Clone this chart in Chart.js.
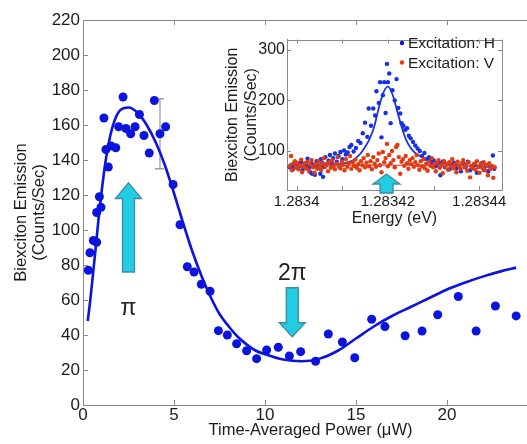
<!DOCTYPE html>
<html>
<head>
<meta charset="utf-8">
<script src="https://cdn.jsdelivr.net/npm/chart.js@4.4.1/dist/chart.umd.min.js"></script>
<style>
  html, body { margin: 0; padding: 0; background: #fff; overflow: hidden; width: 527px; height: 444px; }
  #main { position: absolute; left: 0; top: 0; }
  #inset { position: absolute; left: 220px; top: 28px; background: #fff; }
</style>
</head>
<body>
<canvas id="main" width="560" height="444"></canvas>
<canvas id="inset" width="300" height="202"></canvas>
<script>
// main panel: measured points (power in uW, counts/sec)
const powerUW = [0.29, 0.38, 0.57, 0.75, 0.75, 0.9, 0.99, 1.15, 1.26, 1.39, 1.54, 1.8, 1.96, 2.2, 2.36, 2.62, 2.86, 3.1,
  3.35, 3.64, 3.92, 4.23, 4.54, 4.95, 5.33, 5.73, 6.1, 6.5, 6.98, 7.44, 7.93, 8.44, 8.99, 9.54, 10.09, 10.73, 11.34,
  11.96, 12.78, 13.48, 14.25, 14.93, 15.86, 16.59, 17.7, 18.63, 19.49, 20.62, 21.6, 22.66, 23.8];
const emission = [77, 87, 94, 93, 110, 119, 113, 164, 146, 136, 148, 147, 159, 176, 158, 155, 159, 166,
  154, 144, 174, 155, 159, 126, 103, 79, 76, 69, 65, 42.5, 40, 35, 31, 26.5, 31.4, 33, 28,
  30.5, 25, 40.6, 36, 27, 49, 44.8, 39.6, 42.3, 51.6, 62, 42.3, 56.6, 50.9];

// main panel: fit curve
const fitPower = [0.26, 0.4, 0.55, 0.7, 0.85, 1.0, 1.25, 1.5, 1.75, 2.0, 2.5, 3.0, 3.5, 4.0, 4.5, 5.0, 5.5, 6.0, 6.5,
  7.0, 7.5, 8.0, 8.5, 9.0, 9.5, 10, 11, 12, 13, 14, 15, 16, 17, 18, 19, 20, 21, 22, 23, 23.8];
const fitEmission = [48, 60, 75, 90, 106, 120, 140, 154, 163, 168, 170, 167, 160, 150, 137, 121, 104, 88, 74,
  62, 52, 45, 39, 34.5, 31, 29, 26, 25, 26.5, 31, 38, 45, 51, 56, 61, 66, 70, 73.5, 76.5, 78.5];

const mainXTicks = [0, 5, 10, 15, 20, 25];
const mainYTicks = [0, 20, 40, 60, 80, 100, 120, 140, 160, 180, 200, 220];

// error bar on one point
const errX = 4.23, errLow = 135, errHigh = 175;

// inset: energy offset from 1.28340 eV, in ueV
const offsetH = [-1.5, -1.2, -0.8, -0.5, 0, 0.3, 0.6, 1, 1.3, 1.7, 2, 2.4, 2.7, 3, 3.3, 3.4, 3.7, 4, 4.4, 4.7, 5, 5.2, 5.3,
  5.6, 5.8, 6, 6.3, 6.6, 7, 7.3, 7.7, 8, 8.4, 8.8, 9.2, 9.6, 10, 10.4, 10.8, 11.2, 11.6, 12, 12.5, 13, 13.5, 14, 14.5,
  15, 15.5, 15.8, 16.3, 16.8, 17.2, 17.5, 18, 18.3, 18.6, 18.9, 19.2, 19.5, 19.8, 20, 20.3, 20.6, 21, 21.5, 21.9,
  22.3, 22.7, 23, 23.4, 23.8, 24.2, 24.6, 25, 25.5, 26, 26.5, 27, 27.5, 28, 28.5, 29, 29.5, 30, 30.5, 31, 31.5, 32,
  32.5, 33, 33.5, 34, 34.5, 35, 35.5, 36, 36.5, 37, 37.5, 38, 38.5, 39, 39.5, 40, 40.5, 41, 41.5, 42, 42.5, 43, 43.3];
const countsH = [68, 72, 64, 70, 74, 66, 71, 78, 62, 69, 73, 85, 67, 58, 75, 55, 70, 53, 80, 72, 66, 55, 84,
  77, 49, 69, 88, 74, 81, 92, 76, 86, 95, 79, 90, 98, 84, 101, 93, 97, 108, 112, 99, 106, 120, 116, 135,
  156, 128, 184, 150, 184, 170, 218, 195, 236, 127, 210, 236, 175, 272, 236, 253, 155, 220, 200, 242,
  185, 174, 155, 150, 142, 145, 130, 125, 118, 111, 105, 100, 90, 96, 84, 88, 78, 82, 70, 76, 52, 79,
  68, 74, 64, 72, 77, 66, 71, 60, 75, 68, 79, 62, 70, 74, 57, 69, 76, 63, 71, 60, 67, 91, 65];

const offsetV = [-1.5, -1.2, -1, -0.7, -0.4, -0.2, 0.1, 0.4, 0.7, 1, 1.2, 1.5, 1.8, 2.1, 2.4, 2.7, 3, 3.3, 3.6, 3.9, 4.2,
  4.5, 4.8, 5.1, 5.4, 5.7, 6, 6.3, 6.6, 6.9, 7.2, 7.5, 7.8, 8.1, 8.4, 8.7, 9, 9.3, 9.6, 9.9, 10.2, 10.5, 10.8, 11.1,
  11.4, 11.7, 12, 12.3, 12.6, 12.9, 13.2, 13.5, 13.8, 14.1, 14.4, 14.7, 15, 15.3, 15.6, 15.9, 16.2, 16.5, 16.8, 17.1,
  17.4, 17.7, 18, 18.3, 18.6, 18.9, 19.2, 19.5, 19.8, 20, 20.3, 20.6, 20.9, 21.2, 21.5, 21.8, 22.1, 22.4, 22.7, 23,
  23.3, 23.6, 23.9, 24.2, 24.5, 24.8, 25.1, 25.4, 25.7, 26, 26.3, 26.6, 26.9, 27.2, 27.5, 27.8, 28.1, 28.4, 28.7, 29,
  29.3, 29.6, 29.9, 30.2, 30.5, 30.8, 31.1, 31.4, 31.7, 32, 32.3, 32.6, 32.9, 33.2, 33.5, 33.8, 34.1, 34.4, 34.7, 35,
  35.3, 35.6, 35.9, 36.2, 36.5, 36.8, 37.1, 37.4, 37.7, 38, 38.3, 38.6, 38.9, 39.2, 39.5, 39.8, 40.1, 40.4, 40.7, 41,
  41.3, 41.6, 41.9, 42.2, 42.5, 42.8, 43.1, 43.4];
const countsV = [70, 90, 62, 75, 80, 68, 77, 64, 72, 83, 58, 70, 76, 66, 79, 61, 73, 82, 68, 57, 74,
  65, 80, 70, 63, 76, 86, 69, 74, 60, 78, 67, 82, 71, 64, 75, 88, 70, 66, 79, 73, 62, 84, 69,
  76, 90, 65, 78, 71, 83, 67, 74, 62, 80, 72, 86, 68, 77, 92, 70, 80, 64, 88, 75,
  69, 82, 95, 72, 58, 98, 78, 86, 114, 70, 92, 76, 100, 82, 68, 108, 112, 88, 55, 79,
  84, 71, 90, 76, 65, 82, 74, 86, 69, 78, 92, 72, 63, 80, 70, 84, 66, 75, 61, 79,
  71, 86, 68, 74, 60, 77, 82, 67, 73, 56, 80, 69, 75, 63, 78, 71, 84, 66, 74, 58,
  79, 70, 65, 76, 82, 68, 73, 61, 78, 48, 70, 66, 75, 63, 80, 69, 57, 74, 67, 78,
  62, 72, 52, 76, 65, 70, 47, 68];

// inset fits
const fitOffsetH = [-2, 0, 5, 8, 10, 12, 13, 14, 15, 16, 17, 18, 19, 20, 21, 22, 23, 24, 25, 26, 28, 30, 33, 36, 40, 43];
const fitCountsH = [68, 68.5, 70, 72, 75, 80, 86, 95, 108, 124, 148, 185, 215, 227, 212, 180, 148, 122, 106, 96, 86, 80, 75, 72, 70, 69];
const fitOffsetV = [-1.5, 43.5];
const fitCountsV = [72, 72];

const insetXTicks = [0, 10, 20, 30, 40];
const insetTickLabels = { 0: '1.2834', 20: '1.28342', 40: '1.28344' };
const insetYTicks = [100, 200, 300];
const legendLabels = ['Excitation: H', 'Excitation: V'];

const FONT = "'Liberation Sans', Arial, sans-serif";
const BLUE = '#0a14dc';
const RED = '#e23a12';
const AXIS = '#8a8a8a';
const TXT = '#1c1c1c';
const ARROW_FILL = '#22cde4';
const ARROW_EDGE = '#3f8aa3';

function pts(xs, ys) { return xs.map((x, i) => ({ x: x, y: ys[i] })); }
function fixTicks(list) { return s => { s.ticks = list.map(v => ({ value: v })); }; }

function drawArrow(ctx, cx, yBase, yHead, yTip, shaftHalf, headHalf) {
  ctx.save();
  ctx.beginPath();
  ctx.moveTo(cx - shaftHalf, yBase);
  ctx.lineTo(cx - shaftHalf, yHead);
  ctx.lineTo(cx - headHalf, yHead);
  ctx.lineTo(cx, yTip);
  ctx.lineTo(cx + headHalf, yHead);
  ctx.lineTo(cx + shaftHalf, yHead);
  ctx.lineTo(cx + shaftHalf, yBase);
  ctx.closePath();
  ctx.fillStyle = ARROW_FILL;
  ctx.fill();
  ctx.lineWidth = 1.3;
  ctx.strokeStyle = ARROW_EDGE;
  ctx.stroke();
  ctx.restore();
}

function innerTicks(ctx, chart, sides, len) {
  const { left, right, top, bottom } = chart.chartArea;
  const xs = chart.scales.x, ys = chart.scales.y;
  ctx.save();
  ctx.strokeStyle = AXIS;
  ctx.lineWidth = 1;
  ctx.beginPath();
  xs.ticks.forEach(t => {
    const px = Math.round(xs.getPixelForValue(t.value)) + 0.5;
    if (px <= left + 1 || px >= right - 1) return;
    if (sides.bottom) { ctx.moveTo(px, bottom); ctx.lineTo(px, bottom - len); }
    if (sides.top) { ctx.moveTo(px, top); ctx.lineTo(px, top + len); }
  });
  ys.ticks.forEach(t => {
    const py = Math.round(ys.getPixelForValue(t.value)) + 0.5;
    if (py <= top + 1 || py >= bottom - 1) return;
    if (sides.left) { ctx.moveTo(left, py); ctx.lineTo(left + len, py); }
    if (sides.right) { ctx.moveTo(right, py); ctx.lineTo(right - len, py); }
  });
  ctx.stroke();
  if (sides.top) {
    ctx.beginPath();
    ctx.moveTo(left, Math.round(top) + 0.5);
    ctx.lineTo(right, Math.round(top) + 0.5);
    ctx.stroke();
  }
  if (sides.right) {
    ctx.beginPath();
    ctx.moveTo(Math.round(right) + 0.5, top);
    ctx.lineTo(Math.round(right) + 0.5, bottom);
    ctx.stroke();
  }
  ctx.restore();
}

const mainDecor = {
  id: 'mainDecor',
  beforeDatasetsDraw(chart) {
    const ctx = chart.ctx, xs = chart.scales.x, ys = chart.scales.y;
    const px = xs.getPixelForValue(errX);
    const y1 = ys.getPixelForValue(errLow), y2 = ys.getPixelForValue(errHigh);
    ctx.save();
    ctx.strokeStyle = '#a0a0a0';
    ctx.lineWidth = 1.3;
    ctx.beginPath();
    ctx.moveTo(px, y1); ctx.lineTo(px, y2);
    ctx.moveTo(px - 5, y1); ctx.lineTo(px + 4, y1);
    ctx.moveTo(px - 5, y2); ctx.lineTo(px + 4, y2);
    ctx.stroke();
    ctx.restore();
  },
  afterDraw(chart) {
    const ctx = chart.ctx, xs = chart.scales.x, ys = chart.scales.y;
    innerTicks(ctx, chart, { left: true, bottom: true, top: true }, 5);
    // pi arrow (up) and 2pi arrow (down)
    drawArrow(ctx, xs.getPixelForValue(2.5), ys.getPixelForValue(76), ys.getPixelForValue(118), ys.getPixelForValue(127), 6, 13);
    drawArrow(ctx, xs.getPixelForValue(11.5), ys.getPixelForValue(67), ys.getPixelForValue(47), ys.getPixelForValue(39), 6, 13);
    ctx.save();
    ctx.fillStyle = '#222';
    ctx.font = "23px 'Liberation Sans', Arial, sans-serif";
    ctx.textAlign = 'center';
    ctx.textBaseline = 'middle';
    ctx.fillText('π', xs.getPixelForValue(2.5), ys.getPixelForValue(55));
    ctx.fillText('2π', xs.getPixelForValue(11.5), ys.getPixelForValue(75));
    ctx.restore();
  }
};

new Chart(document.getElementById('main'), {
  type: 'scatter',
  data: {
    datasets: [
      {
        type: 'line',
        data: pts(fitPower, fitEmission),
        borderColor: BLUE,
        borderWidth: 2.6,
        pointRadius: 0,
        cubicInterpolationMode: 'monotone',
        fill: false
      },
      {
        data: pts(powerUW, emission),
        backgroundColor: BLUE,
        borderWidth: 0,
        pointRadius: 4.5
      }
    ]
  },
  options: {
    responsive: false,
    animation: false,
    layout: { padding: { top: 20, right: 22, left: 0, bottom: 0 } },
    plugins: { legend: { display: false }, tooltip: { enabled: false } },
    scales: {
      x: {
        type: 'linear', min: 0, max: 25,
        afterBuildTicks: fixTicks(mainXTicks),
        grid: { display: false, drawTicks: false },
        border: { display: true, color: AXIS, width: 1 },
        ticks: { padding: 0, color: TXT, font: { family: FONT, size: 17 } },
        title: { display: true, text: 'Time-Averaged Power (μW)', color: TXT, font: { family: FONT, size: 16.5, lineHeight: 1.1 }, padding: { top: 0, bottom: 4 } },
        afterFit: s => { s.height = 39; }
      },
      y: {
        type: 'linear', min: 0, max: 220,
        afterBuildTicks: fixTicks(mainYTicks),
        grid: { display: false, drawTicks: false },
        border: { display: true, color: AXIS, width: 1 },
        ticks: { padding: 3, color: TXT, font: { family: FONT, size: 17 } },
        title: { display: true, text: ['Biexciton Emission', '(Counts/Sec)'], color: TXT, font: { family: FONT, size: 16.5, lineHeight: 1.1 }, padding: { top: 12, bottom: 0 } },
        afterFit: s => { s.width = 83; }
      }
    }
  },
  plugins: [mainDecor]
});

const insetDecor = {
  id: 'insetDecor',
  afterDraw(chart) {
    const ctx = chart.ctx, xs = chart.scales.x;
    innerTicks(ctx, chart, { left: true, bottom: true, top: true, right: true }, 4);
    const ax = xs.getPixelForValue(19.7);
    const yb = chart.chartArea.bottom + 3;
    drawArrow(ctx, ax, yb, yb - 9, yb - 19, 6.5, 13.5);
    // legend
    ctx.save();
    ctx.font = "15.5px 'Liberation Sans', Arial, sans-serif";
    ctx.textBaseline = 'middle';
    ctx.textAlign = 'left';
    const colors = [BLUE, RED];
    legendLabels.forEach((lab, i) => {
      const y = 15 + i * 19.5;
      ctx.fillStyle = colors[i];
      ctx.beginPath();
      ctx.arc(182, y, 2.2, 0, Math.PI * 2);
      ctx.fill();
      ctx.fillStyle = TXT;
      ctx.fillText(lab, 188, y + 1);
    });
    ctx.restore();
  }
};

new Chart(document.getElementById('inset'), {
  type: 'scatter',
  data: {
    datasets: [
      {
        data: pts(offsetV, countsV),
        backgroundColor: RED,
        borderWidth: 0,
        pointRadius: 2.2
      },
      {
        data: pts(offsetH, countsH),
        backgroundColor: '#1530e8',
        borderWidth: 0,
        pointRadius: 2.2
      },
      {
        type: 'line',
        data: pts(fitOffsetV, fitCountsV),
        borderColor: '#e0705e',
        borderWidth: 1.5,
        pointRadius: 0,
        fill: false
      },
      {
        type: 'line',
        data: pts(fitOffsetH, fitCountsH),
        borderColor: '#1c34d8',
        borderWidth: 1.8,
        pointRadius: 0,
        cubicInterpolationMode: 'monotone',
        fill: false
      }
    ]
  },
  options: {
    responsive: false,
    animation: false,
    layout: { padding: { top: 5, right: 18, left: 0, bottom: 0 } },
    plugins: { legend: { display: false }, tooltip: { enabled: false } },
    scales: {
      x: {
        type: 'linear', min: -2.1, max: 45,
        afterBuildTicks: fixTicks(insetXTicks),
        grid: { display: false, drawTicks: false },
        border: { display: true, color: AXIS, width: 1 },
        ticks: {
          padding: 3, color: TXT, autoSkip: false, maxRotation: 0,
          font: { family: FONT, size: 15 },
          callback: v => insetTickLabels[Math.round(v)] || ''
        },
        title: { display: true, text: 'Energy (eV)', color: TXT, font: { family: FONT, size: 16, lineHeight: 1.15 }, padding: { top: 0, bottom: 2 } },
        afterFit: s => { s.height = 40; }
      },
      y: {
        type: 'linear', min: 23, max: 320,
        afterBuildTicks: fixTicks(insetYTicks),
        grid: { display: false, drawTicks: false },
        border: { display: true, color: AXIS, width: 1 },
        ticks: { padding: 2, color: TXT, font: { family: FONT, size: 16 } },
        title: { display: true, text: ['Biexciton Emission', '(Counts/Sec)'], color: TXT, font: { family: FONT, size: 16, lineHeight: 1.18 }, padding: { top: 3, bottom: 0 } },
        afterFit: s => { s.width = 67; }
      }
    }
  },
  plugins: [insetDecor]
});
</script>
</body>
</html>
